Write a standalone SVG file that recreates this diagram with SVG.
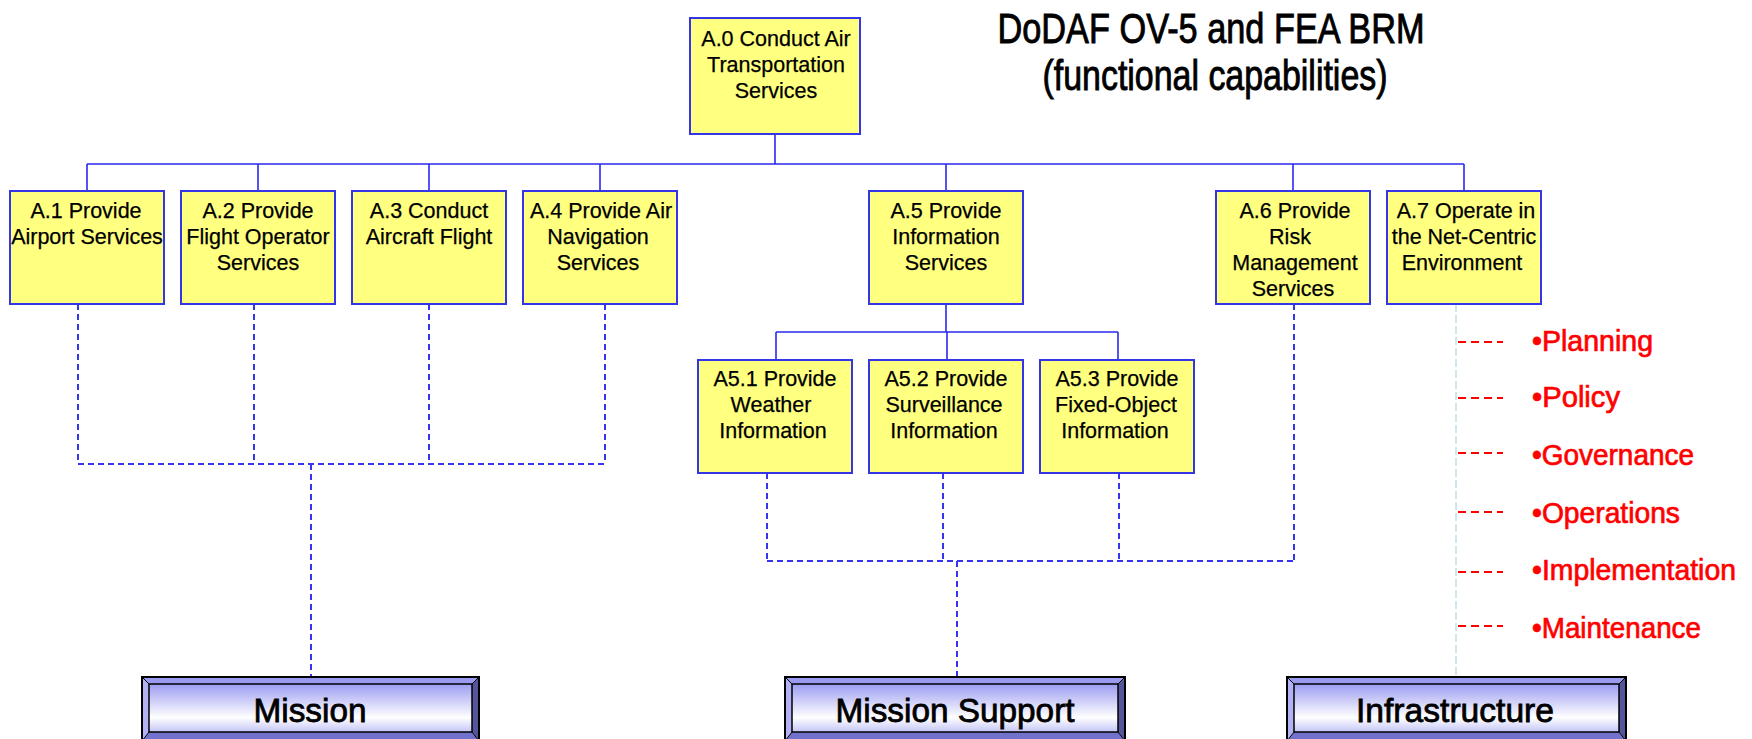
<svg xmlns="http://www.w3.org/2000/svg" width="1752" height="739" viewBox="0 0 1752 739">
<defs>
<linearGradient id="face" x1="0" y1="0" x2="0" y2="1">
<stop offset="0" stop-color="#9c9cf2"/>
<stop offset="0.7" stop-color="#ffffff"/>
<stop offset="1" stop-color="#c4c4f7"/>
</linearGradient>
<style>
.box{fill:#ffff80;stroke:#3535e8;stroke-width:2}
.bt{font-family:"Liberation Sans",Arial,sans-serif;font-size:21.5px;fill:#000;stroke:#000;stroke-width:0.25;text-anchor:middle}
.solid{stroke:#2a2aee;stroke-width:1.6;fill:none}
.dash{stroke:#3535f0;stroke-width:2;fill:none;stroke-dasharray:6 4}
.lite{stroke:#cfe6ee;stroke-width:2;fill:none;stroke-dasharray:8 3}
.red{stroke:#ff0000;stroke-width:2;stroke-dasharray:8 5}
.rt{font-family:"Liberation Sans",Arial,sans-serif;font-size:30px;fill:#ff0000;stroke:#ff0000;stroke-width:0.7}
.title{font-family:"Liberation Sans",Arial,sans-serif;font-size:42px;fill:#000;stroke:#000;stroke-width:0.9;text-anchor:middle}
.cat{font-family:"Liberation Sans",Arial,sans-serif;font-size:34px;fill:#000;stroke:#000;stroke-width:0.8;text-anchor:middle}
.bvt{fill:#9a9af0}.bvl{fill:#b2b2f5}.bvr{fill:#55559c}.bvb{fill:#7272cc}
.edge{fill:none;stroke:#000;stroke-width:2}
</style>
</defs>
<rect width="1752" height="739" fill="#ffffff"/>

<g id="title">
<text class="title" x="1211" y="43" textLength="427" lengthAdjust="spacingAndGlyphs">DoDAF OV-5 and FEA BRM</text>
<text class="title" x="1215" y="90" textLength="345" lengthAdjust="spacingAndGlyphs">(functional capabilities)</text>
</g>

<g id="connectors">
<path class="solid" d="M775 134V164M87 164H1464M87 164V191M258 164V191M429 164V191M600 164V191M946 164V191M1293 164V191M1464 164V191"/>
<path class="solid" d="M946 304V332M776 332H1118M776 332V360M947 332V360M1118 332V360"/>
<path class="dash" d="M78 304V464M254 304V464M429 304V464M605 304V464M78 464H605M311 464V676"/>
<path class="dash" d="M767 473V561M943 473V561M1119 473V561M1294 304V561M767 561H1294M957 561V676"/>
<path class="lite" d="M1456 304V676"/>
<path class="red" d="M1458 342H1503M1458 398H1503M1458 453H1503M1458 512H1503M1458 572H1503M1458 626H1503"/>
</g>

<g id="A0"><rect class="box" x="690" y="18" width="170" height="116"/>
<text class="bt" x="776" y="46">A.0 Conduct Air</text><text class="bt" x="776" y="72">Transportation</text><text class="bt" x="776" y="98">Services</text></g>

<g id="A1"><rect class="box" x="10" y="191" width="154" height="113"/>
<text class="bt" x="86" y="218">A.1 Provide</text><text class="bt" x="87" y="244">Airport Services</text></g>
<g id="A2"><rect class="box" x="181" y="191" width="154" height="113"/>
<text class="bt" x="258" y="218">A.2 Provide</text><text class="bt" x="258" y="244">Flight Operator</text><text class="bt" x="258" y="270">Services</text></g>
<g id="A3"><rect class="box" x="352" y="191" width="154" height="113"/>
<text class="bt" x="429" y="218">A.3 Conduct</text><text class="bt" x="429" y="244">Aircraft Flight</text></g>
<g id="A4"><rect class="box" x="523" y="191" width="154" height="113"/>
<text class="bt" x="601" y="218">A.4 Provide Air</text><text class="bt" x="598" y="244">Navigation</text><text class="bt" x="598" y="270">Services</text></g>
<g id="A5"><rect class="box" x="869" y="191" width="154" height="113"/>
<text class="bt" x="946" y="218">A.5 Provide</text><text class="bt" x="946" y="244">Information</text><text class="bt" x="946" y="270">Services</text></g>
<g id="A6"><rect class="box" x="1216" y="191" width="154" height="113"/>
<text class="bt" x="1295" y="218">A.6 Provide</text><text class="bt" x="1290" y="244">Risk</text><text class="bt" x="1295" y="270">Management</text><text class="bt" x="1293" y="296">Services</text></g>
<g id="A7"><rect class="box" x="1387" y="191" width="154" height="113"/>
<text class="bt" x="1466" y="218">A.7 Operate in</text><text class="bt" x="1464" y="244">the Net-Centric</text><text class="bt" x="1462" y="270">Environment</text></g>

<g id="A51"><rect class="box" x="698" y="360" width="154" height="113"/>
<text class="bt" x="775" y="386">A5.1 Provide</text><text class="bt" x="771" y="412">Weather</text><text class="bt" x="773" y="438">Information</text></g>
<g id="A52"><rect class="box" x="869" y="360" width="154" height="113"/>
<text class="bt" x="946" y="386">A5.2 Provide</text><text class="bt" x="944" y="412">Surveillance</text><text class="bt" x="944" y="438">Information</text></g>
<g id="A53"><rect class="box" x="1040" y="360" width="154" height="113"/>
<text class="bt" x="1117" y="386">A5.3 Provide</text><text class="bt" x="1116" y="412">Fixed-Object</text><text class="bt" x="1115" y="438">Information</text></g>

<g id="list">
<text class="rt" x="1532" y="351" textLength="121" lengthAdjust="spacingAndGlyphs">•Planning</text>
<text class="rt" x="1532" y="407" textLength="88" lengthAdjust="spacingAndGlyphs">•Policy</text>
<text class="rt" x="1532" y="465" textLength="162" lengthAdjust="spacingAndGlyphs">•Governance</text>
<text class="rt" x="1532" y="523" textLength="148" lengthAdjust="spacingAndGlyphs">•Operations</text>
<text class="rt" x="1532" y="580" textLength="204" lengthAdjust="spacingAndGlyphs">•Implementation</text>
<text class="rt" x="1532" y="638" textLength="169" lengthAdjust="spacingAndGlyphs">•Maintenance</text>
</g>

<g id="mission">
<polygon class="bvt" points="142,677 479,677 472,684 149,684"/>
<polygon class="bvl" points="142,677 149,684 149,732 142,741"/>
<polygon class="bvr" points="479,677 479,741 472,732 472,684"/>
<polygon class="bvb" points="142,741 149,732 472,732 479,741"/>
<rect x="149" y="684" width="323" height="48" fill="url(#face)" stroke="#000" stroke-width="1.5"/>
<rect class="edge" x="142" y="677" width="337" height="64"/>
<path d="M142 677L149 684M479 677L472 684M142 741L149 732M479 741L472 732" stroke="#000" stroke-width="1"/>
<text class="cat" x="310" y="722" textLength="113" lengthAdjust="spacingAndGlyphs">Mission</text>
</g>
<g id="support">
<polygon class="bvt" points="785,677 1125,677 1118,684 792,684"/>
<polygon class="bvl" points="785,677 792,684 792,732 785,741"/>
<polygon class="bvr" points="1125,677 1125,741 1118,732 1118,684"/>
<polygon class="bvb" points="785,741 792,732 1118,732 1125,741"/>
<rect x="792" y="684" width="326" height="48" fill="url(#face)" stroke="#000" stroke-width="1.5"/>
<rect class="edge" x="785" y="677" width="340" height="64"/>
<path d="M785 677L792 684M1125 677L1118 684M785 741L792 732M1125 741L1118 732" stroke="#000" stroke-width="1"/>
<text class="cat" x="955" y="722" textLength="239" lengthAdjust="spacingAndGlyphs">Mission Support</text>
</g>
<g id="infra">
<polygon class="bvt" points="1287,677 1626,677 1619,684 1294,684"/>
<polygon class="bvl" points="1287,677 1294,684 1294,732 1287,741"/>
<polygon class="bvr" points="1626,677 1626,741 1619,732 1619,684"/>
<polygon class="bvb" points="1287,741 1294,732 1619,732 1626,741"/>
<rect x="1294" y="684" width="325" height="48" fill="url(#face)" stroke="#000" stroke-width="1.5"/>
<rect class="edge" x="1287" y="677" width="339" height="64"/>
<path d="M1287 677L1294 684M1626 677L1619 684M1287 741L1294 732M1626 741L1619 732" stroke="#000" stroke-width="1"/>
<text class="cat" x="1455" y="722" textLength="198" lengthAdjust="spacingAndGlyphs">Infrastructure</text>
</g>
</svg>
